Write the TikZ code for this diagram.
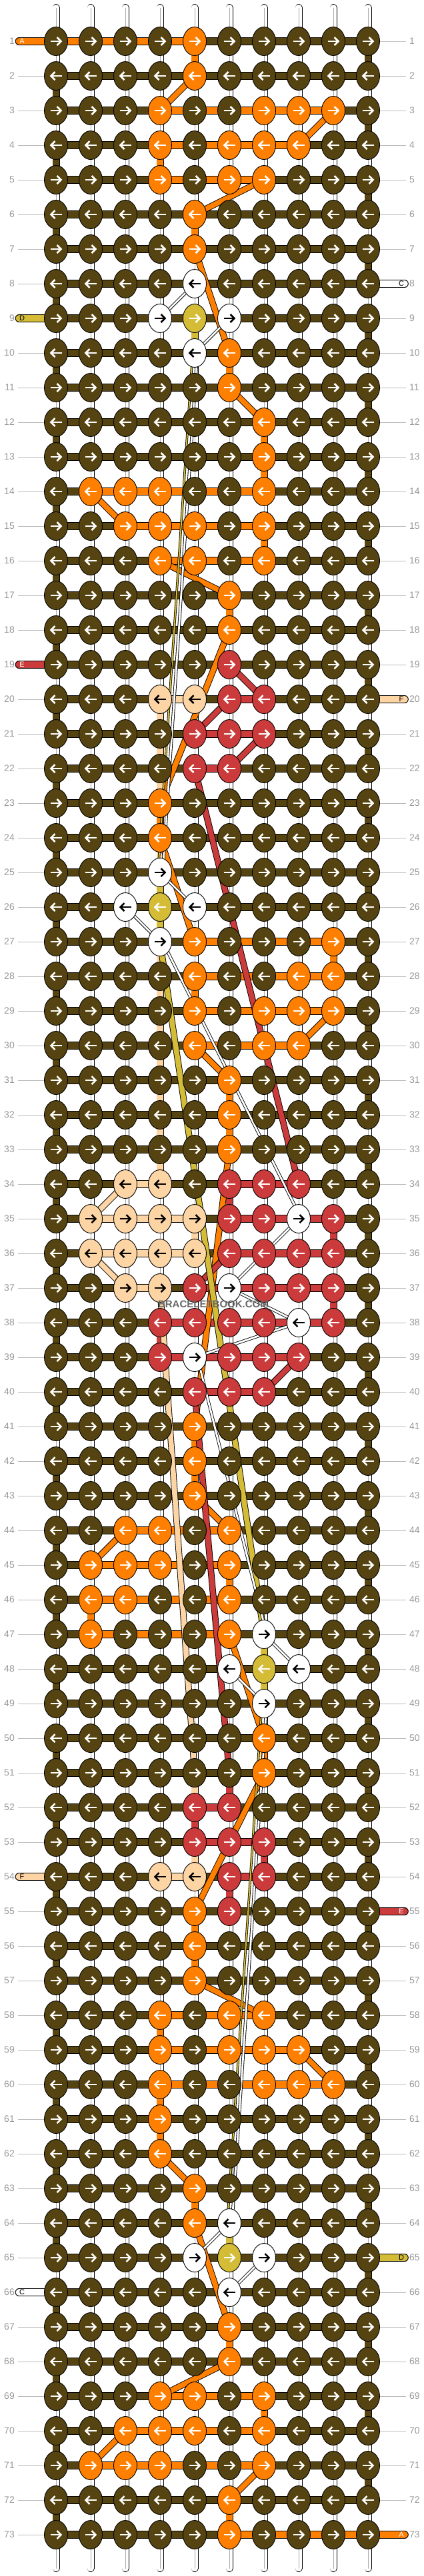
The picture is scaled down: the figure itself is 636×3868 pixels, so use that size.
\documentclass[tikz,border=0pt]{standalone}
\usepackage{fontspec}
\setmainfont{Liberation Sans}
\usetikzlibrary{shapes.geometric}
\definecolor{kB}{HTML}{554411}
\definecolor{kO}{HTML}{FF7F00}
\definecolor{kR}{HTML}{CC3B3B}
\definecolor{kT}{HTML}{FDD5A5}
\definecolor{kY}{HTML}{D4BC37}
\definecolor{kW}{HTML}{FFFFFF}
\definecolor{lblgray}{HTML}{999999}
\definecolor{linegray}{HTML}{BBBBBB}
\definecolor{midgray}{HTML}{A8A8A8}
\newcommand\SetKnot[3]{\expandafter\xdef\csname kc@#1@#2\endcsname{#3}}
\newcommand\SetH[3]{\expandafter\xdef\csname hc@#1@#2\endcsname{#3}}
\newcommand\SetV[3]{\expandafter\xdef\csname vc@#1@#2\endcsname{#3}}
\def\arcolB{white}\def\arcolO{white}\def\arcolR{white}\def\arcolY{white}\def\arcolW{black}\def\arcolT{black}
\begin{document}
\begin{tikzpicture}[x=1pt,y=-1pt,
  knot/.style={ellipse,draw=black,line width=0.9pt,minimum width=35pt,minimum height=43pt,inner sep=0pt},
  arr/.style={line width=2.5pt,line cap=butt,line join=miter},
  lbl/.style={font=\fontsize{14}{14}\selectfont,text=lblgray,inner sep=0pt},
  strlbl/.style={font=\fontsize{11}{11}\selectfont,inner sep=0pt},
  wm/.style={font=\bfseries\fontsize{15}{15}\selectfont,text=black!60,inner sep=0pt}
]
\useasboundingbox[fill=white] (0,0) rectangle (636,3868);
% ---------- registries ----------
\foreach \r/\c/\k in {1/5/O,2/5/O,3/4/O,3/7/O,3/8/O,3/9/O,4/4/O,4/6/O,4/7/O,4/8/O,5/4/O,5/6/O,5/7/O,6/5/O,7/5/O,10/6/O,11/6/O,12/7/O,13/7/O,14/2/O,14/3/O,14/4/O,14/7/O,15/3/O,15/4/O,15/5/O,15/7/O,16/4/O,16/5/O,16/7/O,17/6/O,18/6/O,23/4/O,24/4/O,27/5/O,27/9/O,28/5/O,28/8/O,28/9/O,29/5/O,29/7/O,29/8/O,29/9/O,30/5/O,30/7/O,30/8/O,31/6/O,32/6/O,33/6/O,41/5/O,42/5/O,43/5/O,44/3/O,44/4/O,44/6/O,45/2/O,45/3/O,45/4/O,45/6/O,46/2/O,46/3/O,46/6/O,47/2/O,47/6/O,50/7/O,51/7/O,55/5/O,56/5/O,57/5/O,58/4/O,58/6/O,58/7/O,59/4/O,59/6/O,59/7/O,59/8/O,60/4/O,60/7/O,60/8/O,60/9/O,61/4/O,62/4/O,63/5/O,64/5/O,67/6/O,68/6/O,69/4/O,69/5/O,69/7/O,70/3/O,70/4/O,70/5/O,70/7/O,71/2/O,71/3/O,71/4/O,71/7/O,72/6/O,73/6/O,
8/5/W,9/4/W,9/6/W,10/5/W,25/4/W,26/3/W,26/5/W,27/4/W,35/8/W,37/6/W,38/8/W,39/5/W,47/7/W,48/6/W,48/8/W,49/7/W,64/6/W,65/5/W,65/7/W,66/6/W,
9/5/Y,26/4/Y,48/7/Y,65/6/Y,
19/6/R,20/6/R,20/7/R,21/5/R,21/6/R,21/7/R,22/5/R,22/6/R,34/6/R,34/7/R,34/8/R,35/6/R,35/7/R,35/9/R,36/6/R,36/7/R,36/8/R,36/9/R,37/5/R,37/7/R,37/8/R,37/9/R,38/4/R,38/5/R,38/6/R,38/7/R,38/9/R,39/4/R,39/6/R,39/7/R,39/8/R,40/5/R,40/6/R,40/7/R,52/5/R,52/6/R,53/5/R,53/6/R,53/7/R,54/6/R,54/7/R,55/6/R,
20/4/T,20/5/T,34/3/T,34/4/T,35/2/T,35/3/T,35/4/T,35/5/T,36/2/T,36/3/T,36/4/T,36/5/T,37/3/T,37/4/T,54/4/T,54/5/T}{\SetKnot{\r}{\c}{\k}}
\foreach \r/\a/\b/\k in {1/1/5/O,3/4/9/O,4/4/8/O,5/4/7/O,14/2/7/O,15/3/7/O,16/4/7/O,27/5/9/O,28/5/9/O,29/5/9/O,30/5/8/O,44/3/6/O,45/2/6/O,46/2/6/O,47/2/6/O,58/4/7/O,59/4/8/O,60/4/9/O,69/4/7/O,70/3/7/O,71/2/7/O,73/6/10/O,
20/6/7/R,21/5/7/R,22/5/6/R,34/6/8/R,35/6/9/R,36/6/9/R,37/5/9/R,38/4/9/R,39/4/8/R,40/5/7/R,52/5/6/R,53/5/7/R,54/6/7/R,
20/4/5/T,34/3/4/T,35/2/5/T,36/2/5/T,37/3/4/T,54/4/5/T}{%
  \pgfmathtruncatemacro\bb{\b-1}%
  \foreach \s in {\a,...,\bb}{\SetH{\r}{\s}{\k}}}
\foreach \r/\c/\k in {1/5/O,4/4/O,6/5/O,10/6/O,12/7/O,13/7/O,15/7/O,17/6/O,23/4/O,27/9/O,28/5/O,31/6/O,32/6/O,41/5/O,42/5/O,45/6/O,46/2/O,50/7/O,55/5/O,56/5/O,58/4/O,60/4/O,61/4/O,63/5/O,67/6/O,69/7/O,72/6/O,
34/6/R,35/9/R,37/9/R,38/4/R,51/6/R,52/5/R,53/7/R,54/6/R,
20/4/T,21/4/T,22/4/T,24/4/T,27/4/T,28/4/T,29/4/T,30/4/T,31/4/T,32/4/T,33/4/T,35/5/T,51/5/T,53/5/T,
9/5/Y,25/4/Y,26/4/Y,47/7/Y,48/7/Y,64/6/Y}{\SetV{\r}{\c}{\k}}
% ---------- coordinates ----------
\foreach \r in {1,...,73}{\foreach \c in {1,...,10}{\coordinate (p-\r-\c) at ({32+52*\c},{52*\r+10});}}
\foreach \c in {1,...,10}{\coordinate (top-\c) at ({32+52*\c},11.5);\coordinate (bot-\c) at ({32+52*\c},3856.5);}
% ---------- row labels and guide lines ----------
\foreach \r in {1,...,73}{%
  \pgfmathsetmacro\yy{52*\r+10}%
  \coordinate (gl-\r) at (27,\yy);\coordinate (gr-\r) at (609,\yy);
  \draw[linegray,line width=1pt] (gl-\r) -- (p-\r-1);
  \draw[linegray,line width=1pt] (p-\r-10) -- (gr-\r);
  \node[lbl,anchor=east] (ll-\r) at (22,\yy) {\r};
  \node[lbl,anchor=west] (lr-\r) at (614,\yy) {\r};
}
% ---------- warp strings top and bottom ----------
\foreach \c in {1,...,10}{%
  \draw[black,line width=11pt,line cap=round] (top-\c) -- (p-1-\c);
  \draw[white,line width=9.4pt,line cap=round] (top-\c) -- (p-1-\c);
  \draw[midgray,line width=0.8pt] (top-\c) -- (p-1-\c);
  \draw[black,line width=11pt,line cap=round] (p-73-\c) -- (bot-\c);
  \draw[white,line width=9.4pt,line cap=round] (p-73-\c) -- (bot-\c);
  \draw[midgray,line width=0.8pt] (p-73-\c) -- (bot-\c);
}
% ---------- vertical segments ----------
\foreach \r in {1,...,72}{\pgfmathtruncatemacro\rn{\r+1}\foreach \c in {1,...,10}{%
  \def\vk{N}%
  \ifodd\r \ifnum\c=10 \def\vk{B}\fi \else \ifnum\c=1 \def\vk{B}\fi \fi
  \ifcsname vc@\r @\c\endcsname \edef\vk{\csname vc@\r @\c\endcsname}\fi
  \draw[black,line width=11pt] (p-\r-\c) -- (p-\rn-\c);
  \if N\vk
    \draw[white,line width=9.4pt] (p-\r-\c) -- (p-\rn-\c);
    \draw[midgray,line width=0.8pt] (p-\r-\c) -- (p-\rn-\c);
  \else
    \draw[k\vk,line width=9.4pt] (p-\r-\c) -- (p-\rn-\c);
  \fi
}}
% ---------- horizontal segments ----------
\foreach \r in {1,...,73}{\foreach \c in {1,...,9}{\pgfmathtruncatemacro\cn{\c+1}%
  \def\hk{B}%
  \ifcsname hc@\r @\c\endcsname \edef\hk{\csname hc@\r @\c\endcsname}\fi
  \draw[black,line width=11.6pt] (p-\r-\c) -- (p-\r-\cn);
  \draw[k\hk,line width=9.8pt] (p-\r-\c) -- (p-\r-\cn);
}}
% ---------- edge strings ----------
\foreach \r/\k/\t/\tc in {1/O/A/white,9/Y/D/black,19/R/E/white,54/T/F/black,66/W/C/black}{%
  \pgfmathsetmacro\yy{52*\r+10}\coordinate (se-\r) at (28.5,\yy);
  \draw[black,line width=11.6pt,line cap=round] (se-\r) -- (p-\r-1);
  \draw[k\k,line width=9.8pt,line cap=round] (se-\r) -- (p-\r-1);
  \node[strlbl,text=\tc] (sl-\r) at (33,\yy) {\t};
}
\foreach \r/\k/\t/\tc in {8/W/C/black,20/T/F/black,55/R/E/white,65/Y/D/black,73/O/A/white}{%
  \pgfmathsetmacro\yy{52*\r+10}\coordinate (se-\r) at (607,\yy);
  \draw[black,line width=11.6pt,line cap=round] (p-\r-10) -- (se-\r);
  \draw[k\k,line width=9.8pt,line cap=round] (p-\r-10) -- (se-\r);
  \node[strlbl,text=\tc] (sl-\r) at (602,\yy) {\t};
}
% ---------- thick diagonal threads ----------
\foreach \ra/\ca/\rb/\cb/\k in {2/5/3/4/O,3/9/4/8/O,5/7/6/5/O,7/5/10/6/O,11/6/12/7/O,14/2/15/3/O,16/4/17/6/O,18/6/23/4/O,24/4/27/5/O,29/9/30/8/O,30/5/31/6/O,33/6/41/5/O,43/5/44/6/O,44/3/45/2/O,47/6/50/7/O,51/7/55/5/O,57/5/58/7/O,59/8/60/9/O,62/4/63/5/O,64/5/67/6/O,68/6/69/4/O,70/3/71/2/O,71/7/72/6/O,
19/6/20/7/R,20/6/21/5/R,21/7/22/6/R,22/5/34/8/R,36/6/37/5/R,39/8/40/7/R,40/5/51/6/R,
34/3/35/2/T,36/2/37/3/T,37/4/51/5/T,
27/4/47/7/Y}{%
  \draw[black,line width=9.6pt] (p-\ra-\ca) -- (p-\rb-\cb);
  \draw[k\k,line width=7.8pt] (p-\ra-\ca) -- (p-\rb-\cb);
}
% ---------- thin threads ----------
\foreach \ra/\ca/\rb/\cb in {10/5/25/4,49/7/64/6}{%
  \draw[black,line width=3.6pt] ([xshift=-3pt]p-\ra-\ca) -- ([xshift=-3pt]p-\rb-\cb);
  \draw[kY,line width=2pt] ([xshift=-3pt]p-\ra-\ca) -- ([xshift=-3pt]p-\rb-\cb);
}
\foreach \ra/\ca/\rb/\cb in {10/5/25/4,27/4/35/8,39/5/47/7,49/7/64/6}{%
  \draw[black,line width=4.6pt] ([xshift=4pt]p-\ra-\ca) -- ([xshift=4pt]p-\rb-\cb);
  \draw[white,line width=2.8pt] ([xshift=4pt]p-\ra-\ca) -- ([xshift=4pt]p-\rb-\cb);
}
\foreach \ra/\ca/\rb/\cb in {8/5/9/4,9/6/10/5,25/4/26/5,26/3/27/4,35/8/37/6,37/6/38/8,38/8/39/5,47/7/48/8,48/6/49/7,64/6/65/5,65/7/66/6}{%
  \draw[black,line width=4.6pt] (p-\ra-\ca) -- (p-\rb-\cb);
  \draw[white,line width=2.8pt] (p-\ra-\ca) -- (p-\rb-\cb);
}
% ---------- knots ----------
\foreach \r in {1,...,73}{\foreach \c in {1,...,10}{%
  \ifcsname kc@\r @\c\endcsname \edef\kk{\csname kc@\r @\c\endcsname}\else \def\kk{B}\fi
  \node[knot,fill=k\kk] (k-\r-\c) at (p-\r-\c) {};
  \pgfmathsetmacro\xx{32+52*\c}\pgfmathsetmacro\yy{52*\r+10}%
  \edef\ac{\csname arcol\kk\endcsname}%
  \ifodd\r
    \draw[arr,draw=\ac] ({\xx-8.5},\yy) -- ({\xx+7},\yy);
    \draw[arr,draw=\ac] ({\xx+1.5},{\yy-6}) -- ({\xx+7.5},\yy) -- ({\xx+1.5},{\yy+6});
  \else
    \draw[arr,draw=\ac] ({\xx+8.5},\yy) -- ({\xx-7},\yy);
    \draw[arr,draw=\ac] ({\xx-1.5},{\yy-6}) -- ({\xx-7.5},\yy) -- ({\xx-1.5},{\yy+6});
  \fi
}}
% ---------- watermark ----------
\node[wm] (wmark) at (320,1958) {BRACELETBOOK.COM};
\end{tikzpicture}
\end{document}
